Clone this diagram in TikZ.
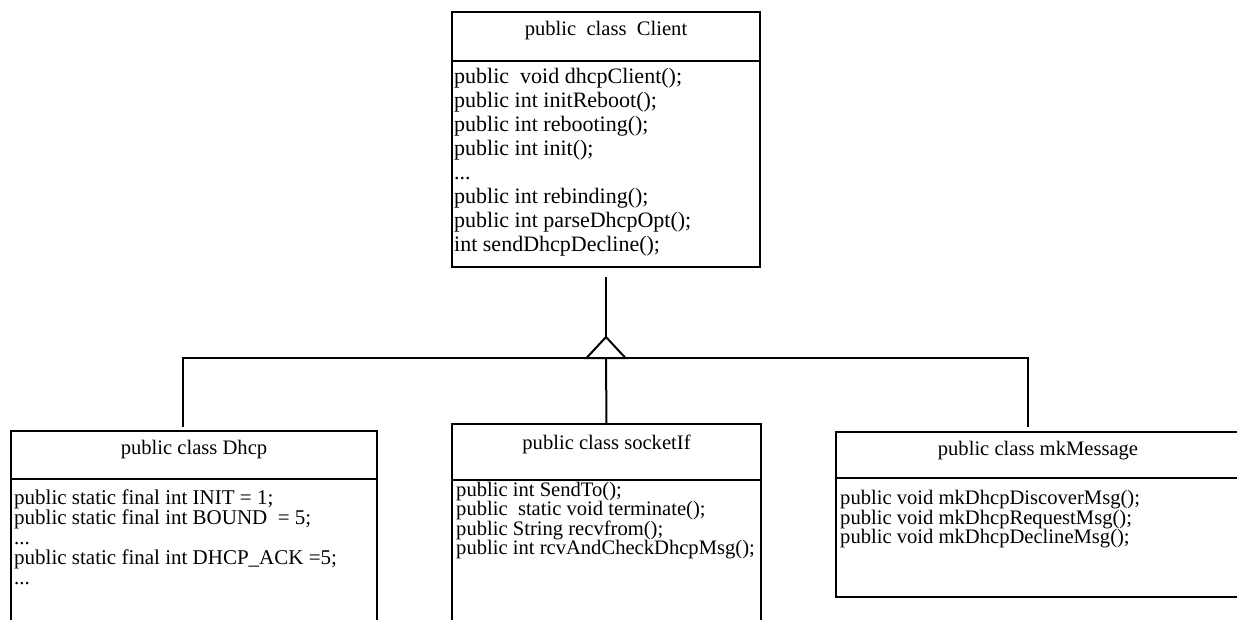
\documentclass[tikz,border=0pt]{standalone}
\usepackage{fontspec}
\setmainfont{Liberation Serif}
\usetikzlibrary{positioning}

\tikzset{
  umlbox/.style={draw, line width=2pt, rectangle, inner sep=0pt, outer sep=0pt, anchor=north west},
  classname/.style={umlbox, text height=14pt, text depth=15pt},
  members/.style={align=left, inner sep=0pt, anchor=north west},
  link/.style={line width=2pt},
}

\begin{document}
\begin{tikzpicture}[x=1pt, y=-1pt, font=\fontsize{20.6}{24}\selectfont]
    \useasboundingbox (0,0) rectangle (1237,619);
    \clip (0,0) rectangle (1237,619);

    % Super class
    \node[classname, text depth=16pt, minimum width=308pt, minimum height=49pt] (clienthead) at (452,12) {public\ \ class\ \ Client};
    \node[umlbox, minimum width=308pt, minimum height=206pt] (clientbody) at (clienthead.south west) {};
    \node[members, font=\fontsize{22}{24}\selectfont] (clientops) at ([xshift=2pt,yshift=-7pt]clientbody.north west)
        {public\ \ void dhcpClient();\\public int initReboot();\\public int rebooting();\\public int init();\\...\\public int rebinding();\\public int parseDhcpOpt();\\int sendDhcpDecline();};

    % Sub classes
    \node[classname, minimum width=366pt, minimum height=48pt] (dhcphead) at (11,431) {public class Dhcp};
    \node[umlbox, minimum width=366pt, minimum height=170pt] (dhcpbody) at (dhcphead.south west) {};
    \node[members, font=\fontsize{21}{20}\selectfont] (dhcpops) at ([xshift=3pt,yshift=-11pt]dhcpbody.north west)
        {public static final int INIT = 1;\\public static final int BOUND\ \ = 5;\\...\\public static final int DHCP\_ACK =5;\\...};

    \node[classname, text depth=19pt, minimum width=309pt, minimum height=56pt] (sockethead) at (452,424) {public class socketIf};
    \node[umlbox, minimum width=309pt, minimum height=170pt] (socketbody) at (sockethead.south west) {};
    \node[members, font=\fontsize{20.6}{19.5}\selectfont] (socketops) at ([xshift=4pt,yshift=-1.5pt]socketbody.north west)
        {public int SendTo();\\public\ \ static void terminate();\\public String recvfrom();\\public int rcvAndCheckDhcpMsg();};

    % right side of this class is cut off by the page edge
    \node[classname, draw=none, text depth=13pt, minimum width=404pt, minimum height=46pt] (msghead) at (836,432) {public class mkMessage};
    \node[umlbox, draw=none, minimum width=404pt, minimum height=119pt] (msgbody) at (msghead.south west) {};
    \draw[link] (msghead.north east) -- (msghead.north west) |- (msgbody.south east);
    \draw[link] (msghead.south west) -- (msghead.south east);
    \node[members, font=\fontsize{20.6}{19.5}\selectfont] (msgops) at ([xshift=4pt,yshift=-12pt]msgbody.north west)
        {public void mkDhcpDiscoverMsg();\\public void mkDhcpRequestMsg();\\public void mkDhcpDeclineMsg();};

    % Inheritance
    \coordinate (apex) at (606,337);
    \coordinate (busL) at (183,358);
    \coordinate (busR) at (1028,358);
    \coordinate (dhcpin) at (183,427);
    \coordinate (msgin) at (1028,427);

    \draw[link] ([yshift=-10pt]clientbody.south) -- (apex);
    \draw[link] (apex) -- ++(-19.5,21) -- ++(39,0) -- cycle;
    \draw[link] (dhcpin) -- (busL) -- (busR) -- (msgin);
    \draw[link] (apex |- busL) -- (sockethead.north);
\end{tikzpicture}
\end{document}
